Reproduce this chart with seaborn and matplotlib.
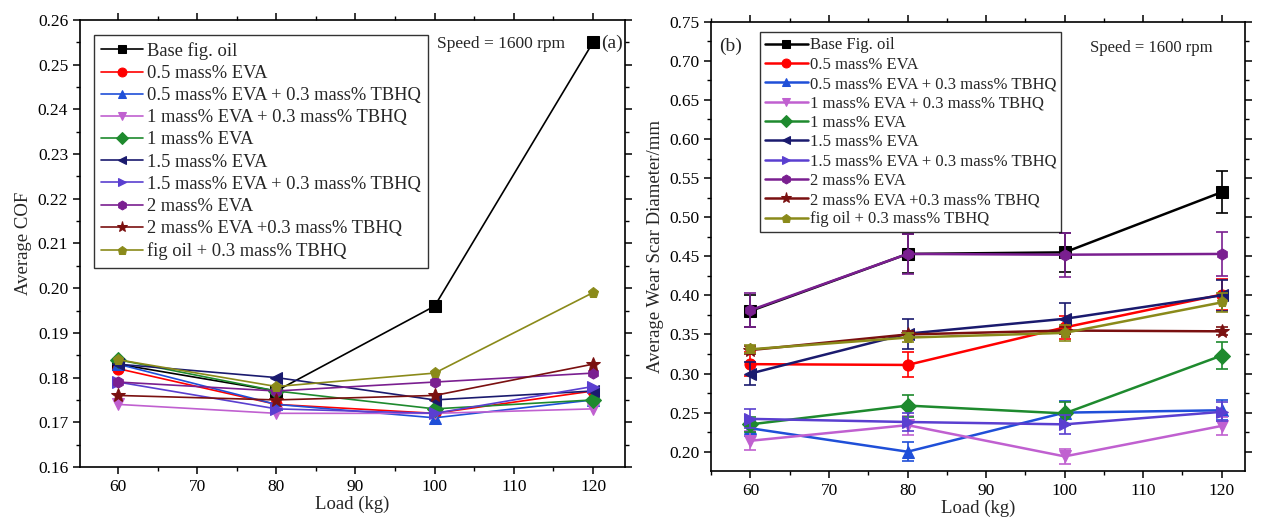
import numpy as np
import pandas as pd
import matplotlib
matplotlib.use("Agg")
import matplotlib.pyplot as plt
import seaborn as sns
from matplotlib.ticker import MultipleLocator

sns.set_theme(style="ticks")
plt.rcParams['font.family'] = ['Liberation Serif', 'DejaVu Serif']
plt.rcParams['mathtext.fontset'] = 'stix'

loads = [60, 80, 100, 120]

labels_a = ["Base fig. oil", "0.5 mass% EVA", "0.5 mass% EVA + 0.3 mass% TBHQ",
            "1 mass% EVA + 0.3 mass% TBHQ", "1 mass% EVA", "1.5 mass% EVA",
            "1.5 mass% EVA + 0.3 mass% TBHQ", "2 mass% EVA",
            "2 mass% EVA +0.3 mass% TBHQ", "fig oil + 0.3 mass% TBHQ"]
labels_b = ["Base Fig. oil"] + labels_a[1:]

colors = ["#000000", "#FF0000", "#1F4FD8", "#C060D0", "#1E8A2E", "#1A1A6E",
          "#5A3FD0", "#7A1F90", "#7A1010", "#8A8A1A"]
markers = ["s", "o", "^", "v", "D", "<", ">", "h", "*", "p"]

# Panel (a): Average COF
cof_base = [0.183, 0.177, 0.196, 0.255]
cof_05 = [0.182, 0.174, 0.172, 0.177]
cof_05t = [0.183, 0.174, 0.171, 0.175]
cof_1t = [0.174, 0.172, 0.172, 0.173]
cof_1 = [0.184, 0.177, 0.173, 0.175]
cof_15 = [0.183, 0.180, 0.175, 0.177]
cof_15t = [0.179, 0.173, 0.172, 0.178]
cof_2 = [0.179, 0.177, 0.179, 0.181]
cof_2t = [0.176, 0.175, 0.176, 0.183]
cof_ft = [0.184, 0.178, 0.181, 0.199]
cof_all = [cof_base, cof_05, cof_05t, cof_1t, cof_1, cof_15, cof_15t, cof_2, cof_2t, cof_ft]

# Panel (b): Average wear scar diameter (mm) and error bars
wsd_base = [0.380, 0.453, 0.455, 0.532]
wsd_05 = [0.312, 0.311, 0.359, 0.401]
wsd_05t = [0.230, 0.200, 0.250, 0.253]
wsd_1t = [0.214, 0.234, 0.194, 0.233]
wsd_1 = [0.235, 0.259, 0.249, 0.323]
wsd_15 = [0.300, 0.351, 0.370, 0.400]
wsd_15t = [0.242, 0.238, 0.235, 0.251]
wsd_2 = [0.381, 0.453, 0.452, 0.453]
wsd_2t = [0.330, 0.350, 0.355, 0.354]
wsd_ft = [0.331, 0.346, 0.352, 0.391]
wsd_all = [wsd_base, wsd_05, wsd_05t, wsd_1t, wsd_1, wsd_15, wsd_15t, wsd_2, wsd_2t, wsd_ft]

err_base = [0.020, 0.025, 0.025, 0.027]
err_05 = [0.015, 0.016, 0.015, 0.020]
err_05t = [0.010, 0.012, 0.015, 0.013]
err_1t = [0.012, 0.012, 0.010, 0.012]
err_1 = [0.010, 0.014, 0.015, 0.017]
err_15 = [0.015, 0.019, 0.020, 0.020]
err_15t = [0.012, 0.012, 0.012, 0.012]
err_2 = [0.022, 0.026, 0.028, 0.028]
err_2t = [0.005, 0.005, 0.005, 0.005]
err_ft = [0.005, 0.006, 0.010, 0.012]
err_all = [err_base, err_05, err_05t, err_1t, err_1, err_15, err_15t, err_2, err_2t, err_ft]

fig = plt.figure(figsize=(12.61, 5.18), dpi=100)
axa = fig.add_axes([0.0634, 0.0985, 0.432, 0.863])
axb = fig.add_axes([0.564, 0.091, 0.4235, 0.867])

def style_axis(ax):
    for s in ax.spines.values():
        s.set_linewidth(1.2)
        s.set_color("black")
    ax.xaxis.set_major_locator(MultipleLocator(10))
    ax.xaxis.set_minor_locator(MultipleLocator(5))
    ax.tick_params(which="both", direction="out", top=True, right=True,
                   labelsize=12.5, colors="black")
    ax.tick_params(which="major", length=5, width=1.1)
    ax.tick_params(which="minor", length=3, width=1.0)
    ax.tick_params(axis="x", which="both", top=True)
    ax.set_xlabel("Load (kg)", fontsize=13.5, labelpad=1)

# Panel a
for lab, vals, c, m in zip(labels_a, cof_all, colors, markers):
    ms = 8 if m != "*" else 10
    sns.lineplot(x=loads, y=vals, ax=axa, color=c, marker=m, markersize=ms,
                 markeredgecolor=c, linewidth=1.2, label=lab)
axa.set_xlim(55.2, 124)
axa.set_ylim(0.16, 0.26)
axa.yaxis.set_major_locator(MultipleLocator(0.01))
axa.yaxis.set_minor_locator(MultipleLocator(0.005))
axa.yaxis.set_major_formatter(matplotlib.ticker.FormatStrFormatter("%.2f"))
style_axis(axa)
axa.set_ylabel("Average COF", fontsize=13.5, labelpad=4)
leg = axa.legend(loc="upper left", bbox_to_anchor=(0.008, 0.988), fontsize=13.3,
                 frameon=True, fancybox=False, edgecolor="black",
                 handlelength=2.3, handletextpad=0.2, labelspacing=0.28,
                 borderpad=0.4, markerscale=0.8)
leg.get_frame().set_linewidth(1.0)
axa.text(0.655, 0.965, "Speed = 1600 rpm", transform=axa.transAxes,
         fontsize=12.5, va="top", ha="left")
axa.text(0.997, 0.968, "(a)", transform=axa.transAxes,
         fontsize=14, va="top", ha="right")

# Panel b
for lab, vals, errs, c, m in zip(labels_b, wsd_all, err_all, colors, markers):
    ms = 8 if m != "*" else 10
    axb.errorbar(loads, vals, yerr=errs, fmt="none", ecolor=c, elinewidth=1.2,
                 capsize=4, capthick=1.2)
    sns.lineplot(x=loads, y=vals, ax=axb, color=c, marker=m, markersize=ms,
                 markeredgecolor=c, linewidth=1.8, label=lab)
axb.set_xlim(55, 123)
axb.set_ylim(0.1755, 0.75)
axb.yaxis.set_major_locator(MultipleLocator(0.05))
axb.yaxis.set_minor_locator(MultipleLocator(0.025))
axb.yaxis.set_major_formatter(matplotlib.ticker.FormatStrFormatter("%.2f"))
style_axis(axb)
axb.set_ylabel("Average Wear Scar Diameter/mm", fontsize=13.5, labelpad=4)
legb = axb.legend(loc="upper left", bbox_to_anchor=(0.075, 0.995), fontsize=12,
                  frameon=True, fancybox=False, edgecolor="black",
                  handlelength=2.6, handletextpad=0.1, labelspacing=0.2,
                  borderpad=0.3, markerscale=0.8)
legb.get_frame().set_linewidth(1.0)
axb.text(0.015, 0.965, "(b)", transform=axb.transAxes,
         fontsize=14, va="top", ha="left")
axb.text(0.71, 0.96, "Speed = 1600 rpm", transform=axb.transAxes,
         fontsize=12, va="top", ha="left")

fig.savefig("out.png", dpi=100)
